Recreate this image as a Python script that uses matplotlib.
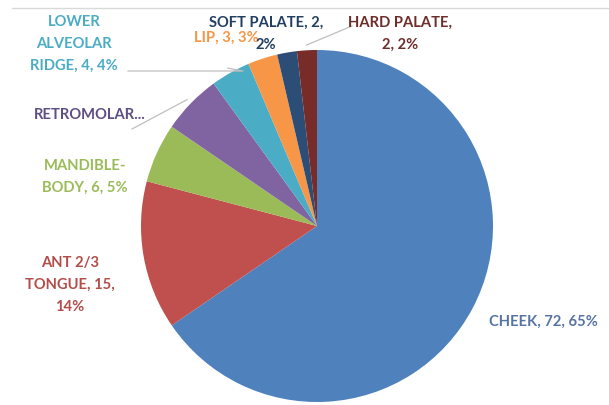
import matplotlib
matplotlib.use("Agg")
import matplotlib.pyplot as plt
import numpy as np

# site counts, clockwise from 12 o'clock
sites = ["CHEEK", "ANT 2/3 TONGUE", "MANDIBLE-BODY", "RETROMOLAR...",
         "LOWER ALVEOLAR RIDGE", "LIP", "SOFT PALATE", "HARD PALATE"]
counts = [72, 15, 6, 6, 4, 3, 2, 2]
percents = [65, 14, 5, 5, 4, 3, 2, 2]

colors = ["#4F81BD", "#C0504D", "#9BBB59", "#8064A2",
          "#4BACC6", "#F79646", "#2C4D75", "#772C2A"]
text_colors = ["#5674a3", "#b24d4a", "#9bbb59", "#5e4e82",
               "#4bacc6", "#f79646", "#223f62", "#6e2d2b"]

W, H = 609, 406
fig = plt.figure(figsize=(W / 100, H / 100), dpi=100)
ax = fig.add_axes([141 / W, 3 / H, 352 / W, 352 / H])

wedges, _ = ax.pie(counts, colors=colors, startangle=90, counterclock=False,
                   radius=1.0, wedgeprops=dict(linewidth=0))
ax.set_xlim(-1, 1)
ax.set_ylim(-1, 1)
ax.set_aspect("equal")
ax.axis("off")

# faint chart-area border at the top
fig.add_artist(plt.Line2D([12 / W, 1.0], [1 - 9 / H, 1 - 9 / H],
                          color="#d9d9d9", lw=1.0))

labels = [
    "CHEEK, 72, 65%",
    "ANT 2/3\nTONGUE, 15,\n14%",
    "MANDIBLE-\nBODY, 6, 5%",
    "RETROMOLAR...",
    "LOWER\nALVEOLAR\nRIDGE, 4, 4%",
    "LIP, 3, 3%",
    "SOFT PALATE, 2,\n2%",
    "HARD PALATE,\n2, 2%",
]
# label centres in pixels from the top-left corner
pos = [(543, 322), (70, 285), (85, 177), (90, 115),
       (74, 44), (226, 38), (266, 34), (400, 34)]

font = dict(family=["Lato", "DejaVu Sans"], fontsize=10.6, fontweight="bold")

def wedge_point(w, r=1.0):
    ang = np.deg2rad((w.theta1 + w.theta2) / 2)
    return r * np.cos(ang), r * np.sin(ang)

for i, (txt, (px, py)) in enumerate(zip(labels, pos)):
    fig.text(px / W, 1 - py / H, txt, ha="center", va="center",
             color=text_colors[i], linespacing=1.7, **font)

# leader lines for the crowded small slices
leader = {4: [(128, 72), (243, 72)], 3: [(132, 130)], 7: [(352, 27)]}
for i, pts in leader.items():
    ex, ey = wedge_point(wedges[i], 1.03)
    disp = ax.transData.transform((ex, ey))
    xs = [p[0] for p in pts] + [disp[0]]
    ys = [H - p[1] for p in pts] + [disp[1]]
    fig.add_artist(plt.Line2D(np.array(xs) / W, np.array(ys) / H,
                              color="#bfbfbf", lw=0.9))

fig.savefig("out.png", dpi=100, facecolor="white")
